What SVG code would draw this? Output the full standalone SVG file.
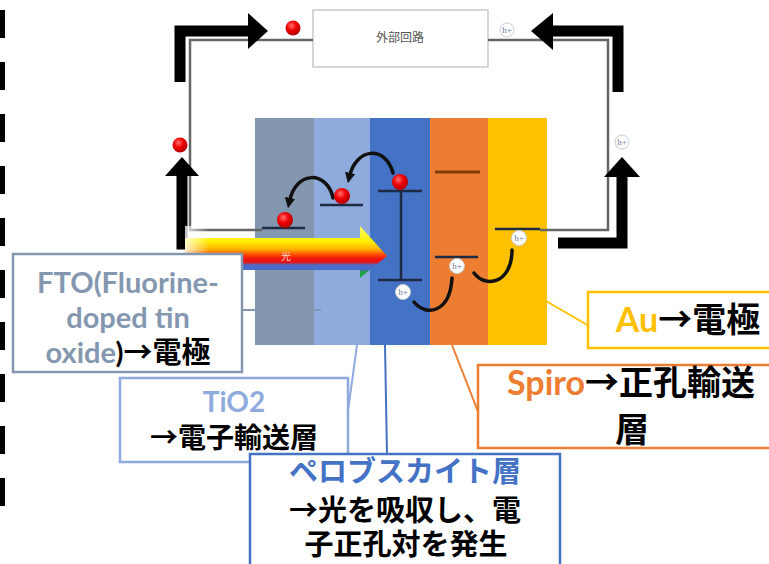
<svg xmlns="http://www.w3.org/2000/svg" width="769" height="564" viewBox="0 0 769 564">
  <style>
    .lbl { font-family: "Lato", "Noto Sans CJK JP", sans-serif; font-weight: bold; text-anchor: middle; }
    .jp { font-family: "Noto Sans CJK JP", sans-serif; font-weight: bold; }
    .wire { fill: none; stroke: #666; stroke-width: 2.5; }
    .bigarrow { fill: none; stroke: #000; stroke-width: 11; stroke-linejoin: miter; }
    .level { stroke: #1f2a44; stroke-width: 2.5; }
    .hop { fill: none; stroke: #111; stroke-width: 3.5; stroke-linecap: round; }
    .hole { fill: #fff; stroke: #c8ccd4; stroke-width: 1; }
    .holetxt { font-family: "Liberation Serif", serif; font-size: 9px; fill: #6d7b93; text-anchor: middle; }
    .box { fill: #fff; stroke-width: 2.5; }
    .lead { fill: none; stroke-width: 2; }
  </style>
  <defs>
    <radialGradient id="eGrad" cx="0.4" cy="0.35" r="0.65">
      <stop offset="0" stop-color="#ff7070"/>
      <stop offset="0.5" stop-color="#f00000"/>
      <stop offset="1" stop-color="#b00000"/>
    </radialGradient>
    <linearGradient id="lightGrad" gradientUnits="userSpaceOnUse" x1="0" y1="226" x2="0" y2="278">
      <stop offset="0" stop-color="#ffff70"/>
      <stop offset="0.3" stop-color="#ffee00"/>
      <stop offset="0.45" stop-color="#ffb000"/>
      <stop offset="0.56" stop-color="#ff4000"/>
      <stop offset="0.64" stop-color="#ee1010"/>
      <stop offset="0.7" stop-color="#e01818"/>
      <stop offset="0.75" stop-color="#4a6cc8"/>
      <stop offset="0.84" stop-color="#4a6cc8"/>
      <stop offset="0.88" stop-color="#20a040"/>
      <stop offset="1" stop-color="#20a040"/>
    </linearGradient>
    <linearGradient id="lightFade" x1="0" y1="0" x2="1" y2="0">
      <stop offset="0" stop-color="#fff" stop-opacity="0.8"/>
      <stop offset="0.12" stop-color="#fff" stop-opacity="0"/>
    </linearGradient>
    <marker id="hopHead" viewBox="0 0 10 10" refX="5" refY="5" markerWidth="3" markerHeight="3" orient="auto">
      <path d="M0,0 L10,5 L0,10 z" fill="#111"/>
    </marker>
  </defs>

  <rect width="769" height="564" fill="#fff"/>

  <!-- dashed rule along the left edge -->
  <line x1="2.5" y1="10" x2="2.5" y2="520" stroke="#000" stroke-width="5" stroke-dasharray="28 24"/>

  <!-- solar cell layers -->
  <g id="layers">
    <rect x="255" y="118" width="59" height="227" fill="#8497b0"/>
    <rect x="314" y="118" width="56" height="227" fill="#8faadc"/>
    <rect x="370" y="118" width="60" height="227" fill="#4472c4"/>
    <rect x="430" y="118" width="58" height="227" fill="#ed7d31"/>
    <rect x="488" y="118" width="59" height="227" fill="#ffc000"/>
  </g>

  <!-- external circuit -->
  <g id="circuit">
    <rect x="313" y="10" width="175" height="57" fill="#fff" stroke="#c9c9c9" stroke-width="1.5"/>
    <text x="400" y="42" font-family="'Noto Sans CJK JP', sans-serif" font-size="12" fill="#555" text-anchor="middle">外部回路</text>
  </g>

  <!-- connectors: wires and current arrows -->
  <g id="connectors">
    <path class="wire" d="M313,40 H190 V230 H262"/>
    <path class="wire" d="M488,40 H608 V230 H540"/>

    <path class="bigarrow" d="M180,82 V31 H250"/>
    <polygon points="248,13 268,31 248,49" fill="#000"/>
    <path class="bigarrow" d="M235,244 H182 V175"/>
    <polygon points="165,176 182,157 199,176" fill="#000"/>
    <path class="bigarrow" d="M618,92 V31 H552"/>
    <polygon points="553,13 531,31 553,50" fill="#000"/>
    <path class="bigarrow" d="M558,243 H622 V176"/>
    <polygon points="604,177 622,157 640,177" fill="#000"/>
  </g>

  <!-- energy levels -->
  <g id="levels">
    <line class="level" x1="262" y1="228" x2="305" y2="228"/>
    <line class="level" x1="320" y1="205" x2="363" y2="205"/>
    <line class="level" x1="378" y1="191" x2="422" y2="191"/>
    <line class="level" x1="378" y1="280" x2="422" y2="280"/>
    <line class="level" x1="401" y1="191" x2="401" y2="280"/>
    <line x1="435" y1="172" x2="480" y2="172" stroke="#843c0c" stroke-width="3"/>
    <line class="level" x1="435" y1="257" x2="478" y2="257"/>
    <line class="level" x1="495" y1="229" x2="540" y2="229"/>
  </g>

  <!-- light entering the cell -->
  <g id="light">
    <polygon points="185,238 360,238 360,226 387,256 360,278 360,270 185,270" fill="url(#lightGrad)"/>
    <rect x="185" y="226" width="202" height="52" fill="url(#lightFade)"/>
    <text x="286" y="260" font-family="'Noto Sans CJK JP', sans-serif" font-size="10" fill="#ffd0d0" text-anchor="middle">光</text>
  </g>

  <!-- charge transfer -->
  <g id="transfer">
    <path class="hop" d="M333,198 C328,172 296,168 289,203" marker-end="url(#hopHead)"/>
    <path class="hop" d="M393,173 C386,146 356,146 349,178" marker-end="url(#hopHead)"/>
    <path class="hop" d="M414,302 C426,317 450,313 452,278"/>
    <path class="hop" d="M474,273 C486,289 512,283 512,250"/>
  </g>

  <!-- electrons -->
  <g id="electrons">
    <circle cx="293" cy="28" r="7.5" fill="url(#eGrad)"/>
    <circle cx="180" cy="145" r="7.5" fill="url(#eGrad)"/>
    <circle cx="285" cy="220" r="8" fill="url(#eGrad)"/>
    <circle cx="342" cy="196" r="8" fill="url(#eGrad)"/>
    <circle cx="400" cy="182" r="8" fill="url(#eGrad)"/>
  </g>

  <!-- holes -->
  <g id="holes">
    <circle class="hole" cx="507" cy="30" r="7"/>
    <text class="holetxt" x="507" y="33">h+</text>
    <circle class="hole" cx="622" cy="142" r="7"/>
    <text class="holetxt" x="622" y="145">h+</text>
    <circle class="hole" cx="403" cy="292" r="7.5"/>
    <text class="holetxt" x="403" y="295">h+</text>
    <circle class="hole" cx="457" cy="266" r="7.5"/>
    <text class="holetxt" x="457" y="269">h+</text>
    <circle class="hole" cx="519" cy="238" r="7.5"/>
    <text class="holetxt" x="519" y="241">h+</text>
  </g>

  <!-- leader lines -->
  <g id="leaders">
    <line class="lead" x1="242" y1="310" x2="321" y2="310" stroke="#8497b0"/>
    <line class="lead" x1="357" y1="345" x2="347" y2="418" stroke="#8faadc"/>
    <line class="lead" x1="385" y1="345" x2="387" y2="455" stroke="#4472c4"/>
    <line class="lead" x1="452" y1="345" x2="479" y2="414" stroke="#ed7d31"/>
    <line class="lead" x1="546" y1="301" x2="589" y2="326" stroke="#ffc000"/>
  </g>

  <!-- layer labels -->
  <g id="label-fto">
    <rect class="box" x="13" y="254" width="229" height="118" stroke="#8497b0"/>
    <text class="lbl" x="128" y="293" font-size="29" fill="#8497b0">FTO(Fluorine-</text>
    <text class="lbl" x="128" y="328" font-size="29" fill="#8497b0">doped tin</text>
    <text class="lbl" x="128" y="363" font-size="29" fill="#8497b0">oxide<tspan fill="#000">)</tspan><tspan class="jp" fill="#000">→電極</tspan></text>
  </g>

  <g id="label-tio2">
    <rect class="box" x="120" y="378" width="228" height="84" stroke="#8faadc"/>
    <text class="lbl" x="234" y="412" font-size="28" fill="#8faadc">TiO2</text>
    <text class="lbl jp" x="234" y="448" font-size="28" fill="#000">→電子輸送層</text>
  </g>

  <g id="label-perovskite">
    <rect class="box" x="250" y="454" width="310" height="120" stroke="#4472c4"/>
    <text class="lbl jp" x="405" y="482" font-size="29" fill="#4472c4">ペロブスカイト層</text>
    <text class="lbl jp" x="405" y="521" font-size="29" fill="#000">→光を吸収し、電</text>
    <text class="lbl jp" x="406" y="555" font-size="29" fill="#000">子正孔対を発生</text>
  </g>

  <g id="label-au">
    <rect class="box" x="588" y="292" width="190" height="56" stroke="#ffc000"/>
    <text class="lbl" x="688" y="332" font-size="34" fill="#ffc000">Au<tspan class="jp" fill="#000">→電極</tspan></text>
  </g>

  <g id="label-spiro">
    <rect class="box" x="478" y="365" width="300" height="83" stroke="#ed7d31"/>
    <text class="lbl" x="631" y="395" font-size="34" fill="#ed7d31">Spiro<tspan class="jp" fill="#000">→正孔輸送</tspan></text>
    <text class="lbl jp" x="632" y="442" font-size="34" fill="#000">層</text>
  </g>
</svg>
